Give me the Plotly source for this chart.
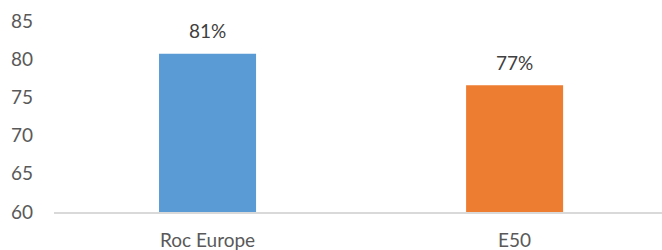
import plotly.graph_objects as go

categories = ["Roc Europe", "E50"]
values = [80.7, 76.6]
labels = ["81%", "77%"]
colors = ["#5B9BD5", "#ED7D31"]
y_ticks = [60, 65, 70, 75, 80, 85]

FONT = "Lato, Carlito, Calibri, Open Sans, sans-serif"

fig = go.Figure()
fig.add_trace(go.Bar(
    x=categories, y=values, marker=dict(color=colors, line=dict(width=0)),
    width=0.316, hoverinfo="skip",
))
for c, v, t in zip(categories, values, labels):
    fig.add_annotation(x=c, y=v, text=t, showarrow=False, yshift=23,
                       font=dict(family=FONT, size=19, color="#404040"))

fig.update_layout(
    width=662, height=250,
    margin=dict(l=54, r=0, t=21, b=38, autoexpand=False),
    plot_bgcolor="white", paper_bgcolor="white",
    showlegend=False,
    font=dict(family=FONT, size=19, color="#595959"),
    xaxis=dict(range=[-0.5, 1.48], showline=True, linecolor="#D9D9D9", linewidth=1.5,
               showgrid=False, ticks="", ticklabelstandoff=10,
               tickfont=dict(size=19, color="#595959")),
    yaxis=dict(range=[60, 85], tickvals=y_ticks, showgrid=False, zeroline=False,
               showline=False, ticks="", ticklabelstandoff=20,
               tickfont=dict(size=19, color="#595959")),
)
fig.write_html("out.html", post_script="document.body.style.margin='0';",
               config={"displayModeBar": False})
